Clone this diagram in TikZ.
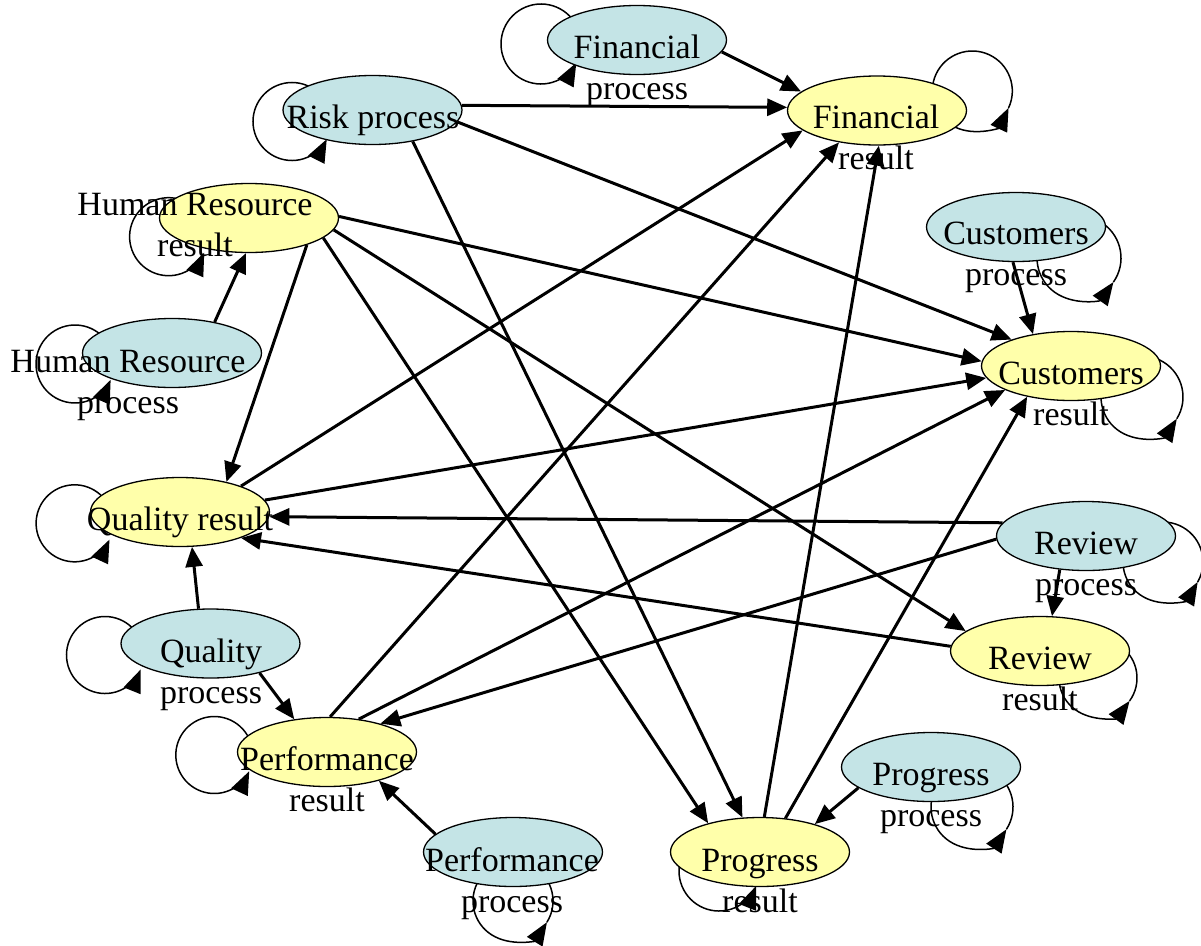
\documentclass[tikz,border=0pt]{standalone}
\usepackage{fontspec}
\setmainfont{Liberation Serif}
\usetikzlibrary{arrows.meta,shapes.geometric}
\pgfdeclarelayer{background}
\pgfsetlayers{background,main}
\definecolor{procblue}{RGB}{196,228,230}
\definecolor{resyellow}{RGB}{255,255,170}
\newcommand\twol[2]{\begin{tabular}[t]{@{}c@{}}#1\\#2\end{tabular}}
\begin{document}
\begin{tikzpicture}[x=1pt,y=1pt,
  proc/.style={ellipse,draw,fill=procblue,line width=1.3pt,minimum width=179pt,minimum height=69pt,inner sep=0pt},
  res/.style={proc,fill=resyellow},
  lbl/.style={inner sep=0pt,anchor=base,font=\fontsize{34}{41}\selectfont},
  edge/.style={line width=3pt,-{Triangle[length=20pt,width=17pt]}},
  selfloop/.style={line width=1.5pt,-{Triangle[length=23pt,width=18pt]}}]
\useasboundingbox (0,0) rectangle (1201,-945);
% ellipses
\node[proc] (fp)  at (637,-40)  {};
\node[proc] (rp)  at (372.5,-110) {};
\node[res]  (fr)  at (877,-110.5) {};
\node[res]  (hrr) at (249,-218) {};
\node[proc] (hrp) at (172,-353) {};
\node[proc] (cp)  at (1016,-227) {};
\node[res]  (cr)  at (1071,-366) {};
\node[res]  (qr)  at (180,-512) {};
\node[proc] (qp)  at (210.5,-643.5) {};
\node[res]  (pr)  at (327,-752) {};
\node[proc] (pp)  at (513,-852) {};
\node[res]  (pgr) at (760,-852) {};
\node[proc] (pgp) at (931,-767) {};
\node[res]  (rvr) at (1040,-651) {};
\node[proc] (rvp) at (1086,-536) {};
% self loops
\begin{pgfonlayer}{background}
\draw[selfloop] ([shift={(-96,-4)}]fp.center) ++(22:40pt) arc[start angle=22,end angle=332,radius=40pt];
\draw[selfloop] ([shift={(-80.5,-11.5)}]rp.center) ++(23:39pt) arc[start angle=23,end angle=333,radius=39pt];
\draw[selfloop] ([shift={(-80.4,-18.7)}]hrr.center) ++(26:39pt) arc[start angle=26,end angle=336,radius=39pt];
\draw[selfloop] ([shift={(-97,-11)}]hrp.center) ++(26:39pt) arc[start angle=26,end angle=336,radius=39pt];
\draw[selfloop] ([shift={(-105.4,-11.3)}]qr.center) ++(25:38.5pt) arc[start angle=25,end angle=335,radius=38.5pt];
\draw[selfloop] ([shift={(-105.5,-11.5)}]qp.center) ++(28:38.5pt) arc[start angle=28,end angle=338,radius=38.5pt];
\draw[selfloop] ([shift={(-112.7,-3)}]pr.center) ++(25:38.5pt) arc[start angle=25,end angle=335,radius=38.5pt];
\draw[selfloop] ([shift={(-41,-19)}]pgr.center) ++(28:40pt) arc[start angle=28,end angle=338,radius=40pt];
\draw[selfloop] ([shift={(95.3,19.5)}]fr.center) ++(-25:40pt) arc[start angle=-25,end angle=335,radius=40pt];
\draw[selfloop] ([shift={(63,-31)}]cp.center) ++(-35:42pt) arc[start angle=-35,end angle=325,radius=42pt];
\draw[selfloop] ([shift={(71,-31)}]cr.center) ++(-32:41pt) arc[start angle=-32,end angle=328,radius=41pt];
\draw[selfloop] ([shift={(77,-26)}]rvp.center) ++(-30:40pt) arc[start angle=-30,end angle=330,radius=40pt];
\draw[selfloop] ([shift={(58,-27)}]rvr.center) ++(-36:39pt) arc[start angle=-36,end angle=324,radius=39pt];
\draw[selfloop] ([shift={(41,-40)}]pgp.center) ++(-33:41pt) arc[start angle=-33,end angle=327,radius=41pt];
\draw[selfloop] ([shift={(0,-49)}]pp.center) ++(-32:40pt) arc[start angle=-32,end angle=328,radius=40pt];
\end{pgfonlayer}
% edges
\draw[edge] (fp.-8) -- (fr.166);
\draw[edge] (rp.3) -- (fr.178);
\draw[edge] (rp.-8) -- (cr.156);
\draw[edge] (rp.-38) -- (pgr.117);
\draw[edge] (hrr.1) -- (cr.177);
\draw[edge] (hrr.-8) -- (rvr.165);
\draw[edge] (hrr.-15) -- (pgr.151);
\draw[edge] (hrr.-25) -- (qr.33);
\draw[edge] (hrp.36) -- (hrr.-95);
\draw[edge] (cp.-95) -- (cr.140);
\draw[edge] (qr.23) -- (fr.195);
\draw[edge] (qr.8) -- (cr.188);
\draw[edge] (rvp.171) -- (qr.-3);
\draw[edge] (rvr.177) -- (qr.-23);
\draw[edge] (rvp.182) -- (pr.28);
\draw[edge] (rvp.-128) -- (rvr.71);
\draw[edge] (qp.-31) -- (pr.135);
\draw[edge] (qp.109) -- (qr.-71);
\draw[edge] (pr.85) -- (fr.-140);
\draw[edge] (pr.46) -- (cr.200);
\draw[edge] (pp.167) -- (pr.-29);
\draw[edge] (pgr.83) -- (fr.-87);
\draw[edge] (pgr.53) -- (cr.215);
\draw[edge] (pgp.196) -- (pgr.27);
% labels
\node[lbl] (fpt)  at (637,-58)  {\twol{Financial}{process}};
\node[lbl] (rpt)  at (373,-128) {Risk process};
\node[lbl] (frt)  at (876,-128) {\twol{Financial}{result}};
\node[lbl] (hrrt) at (195,-215) {\twol{Human Resource}{result}};
\node[lbl] (hrpt) at (128,-372) {\twol{Human Resource}{process}};
\node[lbl] (cpt)  at (1016,-244) {\twol{Customers}{process}};
\node[lbl] (crt)  at (1071,-384) {\twol{Customers}{result}};
\node[lbl] (qrt)  at (180,-530) {Quality result};
\node[lbl] (qpt)  at (211,-662) {\twol{Quality}{process}};
\node[lbl] (prt)  at (327,-770) {\twol{Performance}{result}};
\node[lbl] (ppt)  at (512,-871) {\twol{Performance}{process}};
\node[lbl] (pgrt) at (760,-871) {\twol{Progress}{result}};
\node[lbl] (pgpt) at (931,-785) {\twol{Progress}{process}};
\node[lbl] (rvrt) at (1040,-669) {\twol{Review}{result}};
\node[lbl] (rvpt) at (1086,-554) {\twol{Review}{process}};
\end{tikzpicture}
\end{document}
